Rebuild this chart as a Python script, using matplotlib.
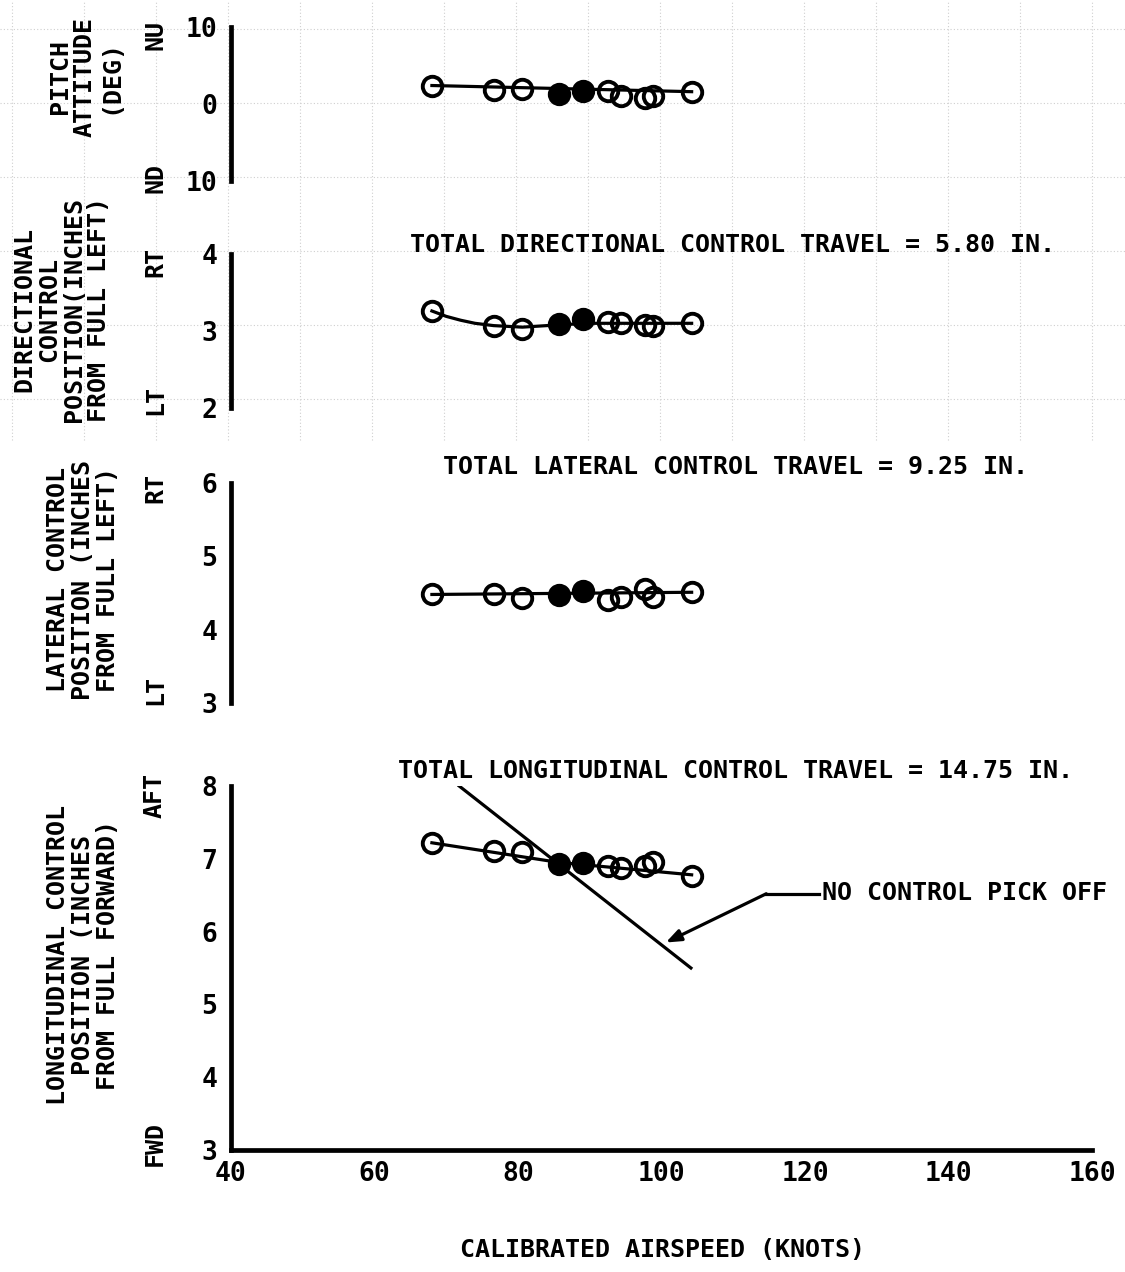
import matplotlib
matplotlib.use("Agg")
import matplotlib.pyplot as plt
from matplotlib.lines import Line2D

# Flight-test trim data: control positions vs calibrated airspeed
airspeed = [68.0, 76.6, 80.6, 85.7, 89.0, 92.6, 94.3, 97.7, 98.8, 104.2]
solid = [False, False, False, True, True, False, False, False, False, False]

pitch = [2.4, 1.8, 2.0, 1.35, 1.75, 1.75, 1.1, 0.8, 1.1, 1.6]
directional = [3.26, 3.06, 3.02, 3.09, 3.16, 3.12, 3.10, 3.08, 3.07, 3.10]
lateral = [4.48, 4.49, 4.43, 4.47, 4.53, 4.41, 4.45, 4.56, 4.45, 4.51]
longitudinal = [7.22, 7.11, 7.10, 6.93, 6.94, 6.90, 6.87, 6.90, 6.95, 6.77]

# faired curves drawn through the points
pitch_fair_x = [68.0, 104.2]
pitch_fair_y = [2.4, 1.6]
dir_fair_x = [68.0, 70.0, 72.0, 74.0, 76.6, 80.6, 85.7, 90.0, 104.2]
dir_fair_y = [3.26, 3.19, 3.14, 3.10, 3.07, 3.05, 3.08, 3.10, 3.10]
lat_fair_x = [68.0, 104.2]
lat_fair_y = [4.48, 4.51]
long_fair_x = [68.0, 85.7, 104.2]
long_fair_y = [7.22, 6.95, 6.78]

# longitudinal position with no control pick off
pickoff_x = [71.8, 104.1]
pickoff_y = [8.0, 5.5]

W, H = 1125, 1272
FONT = ["DejaVu Sans Mono", "DejaVu Sans"]
plt.rcParams["font.family"] = FONT
plt.rcParams["font.weight"] = "bold"


def px(x, y):
    return x / W, 1 - y / H


def make_axes(fig, top, bottom, ylim, yticks, yticklabels, show_x=False):
    left, right = 231, 1092
    ax = fig.add_axes([left / W, 1 - bottom / H, (right - left) / W, (bottom - top) / H])
    ax.set_xlim(40, 160)
    ax.set_ylim(*ylim)
    ax.patch.set_alpha(0)
    for side in ("top", "right"):
        ax.spines[side].set_visible(False)
    ax.spines["left"].set_linewidth(3.4)
    ax.set_yticks(yticks)
    ax.set_yticklabels(yticklabels, fontsize=19, fontweight="bold")
    ax.tick_params(axis="y", length=0, pad=10)
    if show_x:
        ax.spines["bottom"].set_linewidth(3.4)
        ax.set_xticks([40, 60, 80, 100, 120, 140, 160])
        ax.tick_params(axis="x", length=0, pad=8, labelsize=19)
        for lab in ax.get_xticklabels():
            lab.set_fontweight("bold")
    else:
        ax.spines["bottom"].set_visible(False)
        ax.set_xticks([])
    return ax


def draw_series(ax, fx, fy, values):
    ax.plot(fx, fy, color="black", lw=2.3, zorder=3)
    for x, y, s in zip(airspeed, values, solid):
        ax.plot(x, y, marker="o", ms=14, mew=2.8, mec="black",
                mfc="black" if s else "none", zorder=4)


fig = plt.figure(figsize=(W / 100, H / 100), dpi=100)

# faint graph-paper rulings across the upper part of the sheet
grid_kw = dict(color="#cfcfcf", lw=0.8, linestyle=(0, (1, 2)), zorder=0)
for gx in range(12, W, 72):
    fig.add_artist(Line2D([gx / W, gx / W], [1 - 440 / H, 1], **grid_kw))
for gy in range(29, 440, 74):
    fig.add_artist(Line2D([0, 1], [1 - gy / H, 1 - gy / H], **grid_kw))

ax1 = make_axes(fig, 27, 181, (-10, 10), [10, 0, -10], ["10", "0", "10"])
draw_series(ax1, pitch_fair_x, pitch_fair_y, pitch)

ax2 = make_axes(fig, 254, 408, (2, 4), [4, 3, 2], ["4", "3", "2"])
draw_series(ax2, dir_fair_x, dir_fair_y, directional)

ax3 = make_axes(fig, 483, 703, (3, 6), [6, 5, 4, 3], ["6", "5", "4", "3"])
draw_series(ax3, lat_fair_x, lat_fair_y, lateral)

ax4 = make_axes(fig, 786, 1150, (3, 8), [8, 7, 6, 5, 4, 3],
                ["8", "7", "6", "5", "4", "3"], show_x=True)
draw_series(ax4, long_fair_x, long_fair_y, longitudinal)
ax4.plot(pickoff_x, pickoff_y, color="black", lw=2.3, zorder=3)

# leader for the pick-off note
ax4.plot([122.0, 114.6], [6.52, 6.52], color="black", lw=2.3, clip_on=False)
ax4.annotate("", xy=(100.6, 5.85), xytext=(114.6, 6.52),
             arrowprops=dict(arrowstyle="-|>,head_length=0.9,head_width=0.35",
                             color="black", lw=2.3, shrinkA=0, shrinkB=0))

txt = dict(fontsize=18, fontweight="bold", color="black")

fig.text(*px(410, 245), "TOTAL DIRECTIONAL CONTROL TRAVEL = 5.80 IN.", va="center", **txt)
fig.text(*px(443, 467), "TOTAL LATERAL CONTROL TRAVEL = 9.25 IN.", va="center", **txt)
fig.text(*px(398, 771), "TOTAL LONGITUDINAL CONTROL TRAVEL = 14.75 IN.", va="center", **txt)
fig.text(*px(822, 893), "NO CONTROL PICK OFF", va="center", **txt)
fig.text(*px(662, 1250), "CALIBRATED AIRSPEED (KNOTS)", ha="center", va="center", **txt)

ylab = dict(rotation=90, ha="center", va="center", multialignment="center",
            linespacing=1.05, **txt)
fig.text(*px(85, 77), "PITCH\nATTITUDE\n(DEG)", **ylab)
fig.text(*px(62, 310), "DIRECTIONAL\nCONTROL\nPOSITION(INCHES\nFROM FULL LEFT)", **ylab)
fig.text(*px(83, 580), "LATERAL CONTROL\nPOSITION (INCHES\nFROM FULL LEFT)", **ylab)
fig.text(*px(83, 955), "LONGITUDINAL CONTROL\nPOSITION (INCHES\nFROM FULL FORWARD)", **ylab)

# direction sense words beside each scale
for word, y in [("NU", 35), ("ND", 178), ("RT", 262), ("LT", 400),
                ("RT", 488), ("LT", 690), ("AFT", 795), ("FWD", 1143)]:
    fig.text(*px(155, y), word, rotation=90, ha="center", va="center", **txt)

fig.savefig("out.png", dpi=100, facecolor="white")
